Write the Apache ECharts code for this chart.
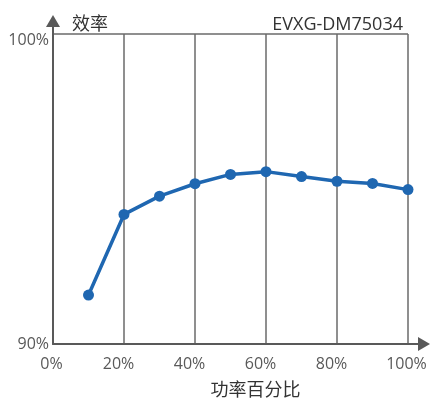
<!DOCTYPE html>
<html><head><meta charset="utf-8">
<script src="https://cdn.jsdelivr.net/npm/echarts@6/dist/echarts.min.js"></script>
<style>html,body{margin:0;padding:0;background:#fff}#c{width:431px;height:402px}</style>
</head><body><div id="c"></div>
<script>
const loadPercent = [10, 20, 30, 40, 50, 60, 70, 80, 90, 100];
const efficiency = [91.58, 94.18, 94.77, 95.17, 95.47, 95.56, 95.40, 95.25, 95.18, 94.98];
const xTicks = [0, 20, 40, 60, 80, 100];
const yTicks = [90, 100];
const titleText = '效率';
const modelText = 'EVXG-DM75034';
const xName = '功率百分比';

const FONT = '"Open Sans", "Noto Sans CJK SC", sans-serif';
const AXIS = '#595959';
const chart = echarts.init(document.getElementById('c'));
const lbl = {fontSize: 16, color: '#595959', fontFamily: FONT};
chart.setOption({
  animation: false,
  textStyle: {fontFamily: FONT},
  title: [
    {text: titleText, left: 67, top: 11, textStyle: {fontSize: 18, fontWeight: 'normal', color: '#333', fontFamily: FONT}},
    {text: modelText, right: 23, top: 11, textStyle: {fontSize: 18, fontWeight: 'normal', color: '#333', fontFamily: FONT}}
  ],
  grid: [
    {left: 53, right: 23, top: 34, bottom: 58, containLabel: false, outerBoundsMode: 'none'},
    {left: 53, right: 7, top: 21, bottom: 58, containLabel: false, outerBoundsMode: 'none'}
  ],
  xAxis: [
    {
      type: 'value', gridIndex: 0, min: xTicks[0], max: xTicks[xTicks.length - 1], interval: 20,
      axisLine: {show: false}, axisTick: {show: false},
      splitLine: {show: true, lineStyle: {color: '#6a6a6a', width: 1.5}},
      axisLabel: {
        margin: 12,
        formatter: v => (v === 0 || v === 100) ? '{e|' + v + '%}' : '{m|' + v + '%}',
        rich: {e: Object.assign({padding: [0, 3, 0, 0]}, lbl), m: Object.assign({padding: [0, 11, 0, 0]}, lbl)}
      },
      name: xName, nameLocation: 'middle', nameGap: 38,
      nameTextStyle: {fontSize: 18, color: '#333', fontFamily: FONT, padding: [0, 0, 0, 50]}
    },
    {
      type: 'value', gridIndex: 1, min: 0, max: 1,
      axisLine: {show: true, symbol: ['none', 'triangle'], symbolSize: [14, 12], lineStyle: {color: AXIS, width: 2}},
      axisTick: {show: false}, axisLabel: {show: false}, splitLine: {show: false}
    }
  ],
  yAxis: [
    {
      type: 'value', gridIndex: 0, min: yTicks[0], max: yTicks[1], interval: 10,
      axisLine: {show: false}, axisTick: {show: false},
      splitLine: {show: true, lineStyle: {color: '#6a6a6a', width: 1.5}},
      axisLabel: {
        margin: 4,
        formatter: v => v === 100 ? '{t|' + v + '%}' : '{b|' + v + '%}',
        rich: {t: Object.assign({padding: [12, 0, 0, 0]}, lbl), b: Object.assign({}, lbl)}
      }
    },
    {
      type: 'value', gridIndex: 1, min: 0, max: 1,
      axisLine: {show: true, symbol: ['none', 'triangle'], symbolSize: [14, 12], lineStyle: {color: AXIS, width: 2}},
      axisTick: {show: false}, axisLabel: {show: false}, splitLine: {show: false}
    }
  ],
  series: [{
    type: 'line', xAxisIndex: 0, yAxisIndex: 0,
    data: loadPercent.map((x, i) => [x, efficiency[i]]),
    symbol: 'circle', symbolSize: 11,
    lineStyle: {color: '#1f67b1', width: 3.5},
    itemStyle: {color: '#1f67b1'},
    z: 10
  }]
});
</script></body></html>
